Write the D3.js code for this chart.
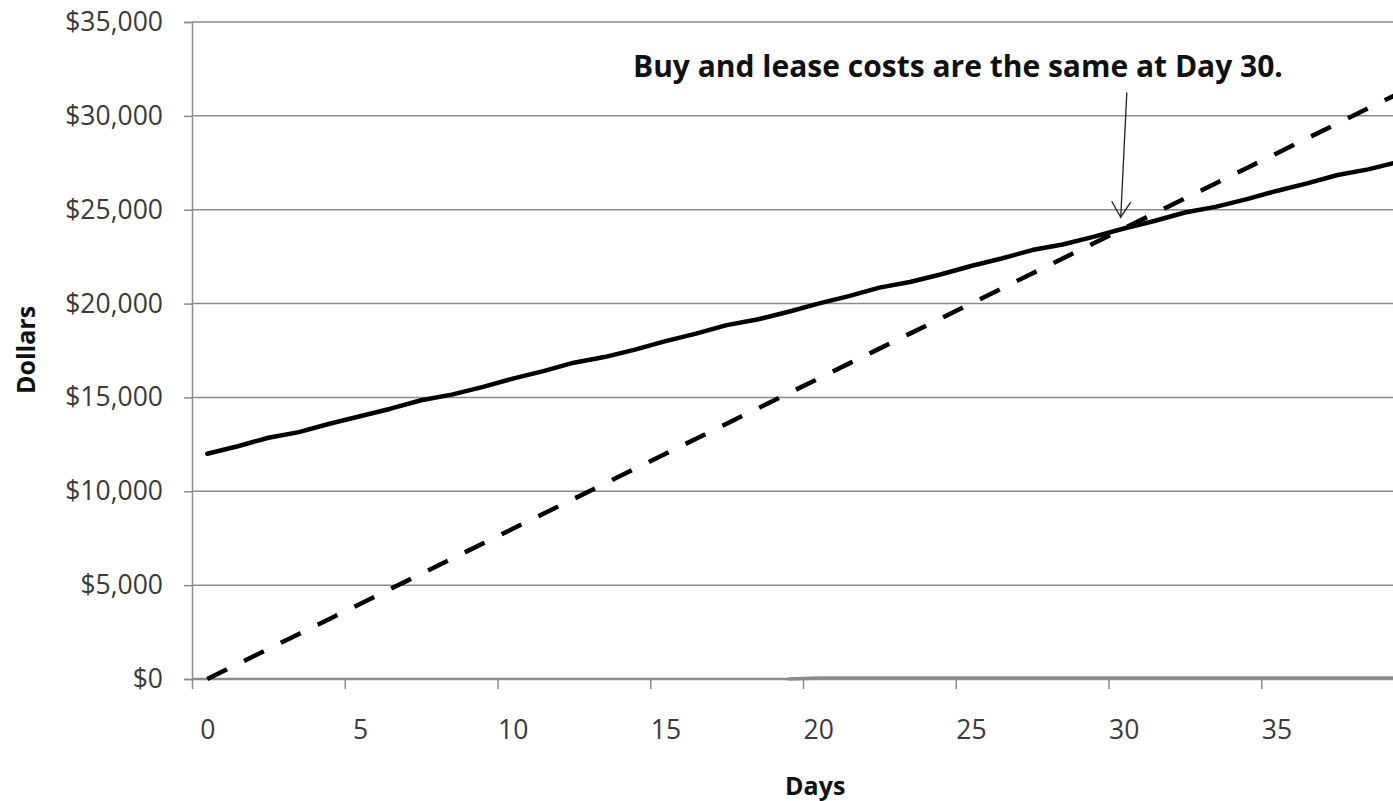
<!DOCTYPE html>
<html>
<head>
<meta charset="utf-8">
<script src="https://cdn.jsdelivr.net/npm/d3@7"></script>
<style>
	body { margin: 0; background: #fff; }
	svg { display: block; overflow: hidden; }
	text { font-family: 'Open Sans', sans-serif; }
</style>
</head>
<body>
<div class="chart"></div>
<script>
// days 0..39 (category axis)
const days = d3.range(0, 40);
const buyCost = [
	12000, 12400, 12850, 13150, 13600, 14000, 14400, 14850, 15150, 15550,
	16000, 16400, 16850, 17150, 17550, 18000, 18400, 18850, 19150, 19550,
	20000, 20400, 20850, 21150, 21550, 22000, 22400, 22850, 23150, 23550,
	24000, 24400, 24850, 25150, 25550, 26000, 26400, 26850, 27150, 27550
];
const leaseCost = [
	0, 800, 1600, 2400, 3200, 4000, 4800, 5600, 6400, 7200,
	8000, 8800, 9600, 10400, 11200, 12000, 12800, 13600, 14400, 15200,
	16000, 16800, 17600, 18400, 19200, 20000, 20800, 21600, 22400, 23200,
	24000, 24800, 25600, 26400, 27200, 28000, 28800, 29600, 30400, 31200
];
// faint grey series sitting on the baseline from day 19
const baseSeries = [
	null, null, null, null, null, null, null, null, null, null,
	null, null, null, null, null, null, null, null, null, 0,
	50, 50, 50, 50, 50, 50, 50, 50, 50, 50,
	50, 50, 50, 50, 50, 50, 50, 50, 50, 50
];
const yTicks = [0, 5000, 10000, 15000, 20000, 25000, 30000, 35000];
const xLabels = [0, 5, 10, 15, 20, 25, 30, 35];
const note = 'Buy and lease costs are the same at Day 30.';

drawChart(1393, 801);

function drawChart(width, height) {
	const left = 192;
	const top = 22;
	const bottom = 679;
	const step = 30.55;
	const right = left + days.length * step;

	const svg = d3.select('.chart')
	.append('svg')
	.attr('width', width)
	.attr('height', height);

	const x = d3.scaleLinear()
	.domain([-0.5, days.length - 0.5])
	.range([left, right]);

	const y = d3.scaleLinear()
	.domain([0, 35000])
	.range([bottom, top]);

	// gridlines
	svg.append('g')
	.selectAll('line')
	.data(yTicks.filter(d => d > 0))
	.enter().append('line')
	.attr('x1', left)
	.attr('x2', right)
	.attr('y1', d => y(d))
	.attr('y2', d => y(d))
	.attr('stroke', '#8c8c8c')
	.attr('stroke-width', 1.5);

	// y axis
	const yAxis = svg.append('g')
	.attr('transform', `translate(${left},0)`)
	.call(d3.axisLeft(y)
		.tickValues(yTicks)
		.tickSize(8)
		.tickPadding(21)
		.tickFormat(d3.format('$,')));
	yAxis.select('.domain').attr('stroke', '#8c8c8c').attr('stroke-width', 1.5);
	yAxis.selectAll('.tick line').attr('stroke', '#8c8c8c').attr('stroke-width', 1.5);
	yAxis.selectAll('text')
	.attr('font-size', '26.5px')
	.attr('fill', '#3a3a3a')
	.style('font-family', "'Open Sans', sans-serif");

	// x axis: tick marks sit between categories, labels at category centres
	const tickMarks = svg.append('g')
	.attr('transform', `translate(0,${bottom})`)
	.call(d3.axisBottom(x)
		.tickValues(xLabels.map(d => d - 0.5))
		.tickSize(10)
		.tickFormat(''));
	tickMarks.select('.domain').remove();
	tickMarks.selectAll('.tick line').attr('stroke', '#8c8c8c').attr('stroke-width', 1.5);

	const xAxis = svg.append('g')
	.attr('transform', `translate(0,${bottom})`)
	.call(d3.axisBottom(x)
		.tickValues(xLabels)
		.tickSize(0)
		.tickPadding(41));
	xAxis.select('.domain').remove();
	xAxis.selectAll('text')
	.attr('font-size', '26.5px')
	.attr('fill', '#3a3a3a')
	.style('font-family', "'Open Sans', sans-serif");

	svg.append('line')
	.attr('x1', left)
	.attr('x2', right)
	.attr('y1', bottom)
	.attr('y2', bottom)
	.attr('stroke', '#8c8c8c')
	.attr('stroke-width', 2.5);

	const line = d3.line()
	.defined(d => d[1] !== null)
	.x(d => x(d[0]))
	.y(d => y(d[1]));

	svg.append('path')
	.datum(days.map((d, i) => [d, baseSeries[i]]))
	.attr('d', line)
	.attr('fill', 'none')
	.attr('stroke', '#8c8c8c')
	.attr('stroke-width', 3.5);

	svg.append('path')
	.datum(days.map((d, i) => [d, leaseCost[i]]))
	.attr('d', line)
	.attr('fill', 'none')
	.attr('stroke', '#000')
	.attr('stroke-width', 4.5)
	.attr('stroke-dasharray', '22,19');

	svg.append('path')
	.datum(days.map((d, i) => [d, buyCost[i]]))
	.attr('d', line)
	.attr('fill', 'none')
	.attr('stroke', '#000')
	.attr('stroke-width', 4.5)
	.attr('stroke-linejoin', 'round')
	.attr('stroke-linecap', 'round');

	// annotation
	svg.append('text')
	.attr('x', 633)
	.attr('y', 77)
	.attr('font-size', '30px')
	.attr('font-weight', 700)
	.attr('fill', '#111')
	.text(note);

	const ax1 = x(30.1);
	const ay1 = y(31250);
	const ax2 = x(29.9);
	const ay2 = y(24600);
	svg.append('line')
	.attr('x1', ax1).attr('y1', ay1)
	.attr('x2', ax2).attr('y2', ay2)
	.attr('stroke', '#222')
	.attr('stroke-width', 1.3);
	svg.append('path')
	.attr('d', `M${ax2 - 9},${ay2 - 16} L${ax2},${ay2} L${ax2 + 10},${ay2 - 15}`)
	.attr('fill', 'none')
	.attr('stroke', '#222')
	.attr('stroke-width', 1.3);

	// axis titles
	svg.append('text')
	.attr('x', x(19.9))
	.attr('y', 795)
	.attr('text-anchor', 'middle')
	.attr('font-size', '25px')
	.attr('font-weight', 700)
	.attr('fill', '#111')
	.text('Days');

	svg.append('text')
	.attr('transform', 'translate(35,350) rotate(-90)')
	.attr('text-anchor', 'middle')
	.attr('font-size', '25px')
	.attr('font-weight', 700)
	.attr('fill', '#111')
	.text('Dollars');
}
</script>
</body>
</html>
